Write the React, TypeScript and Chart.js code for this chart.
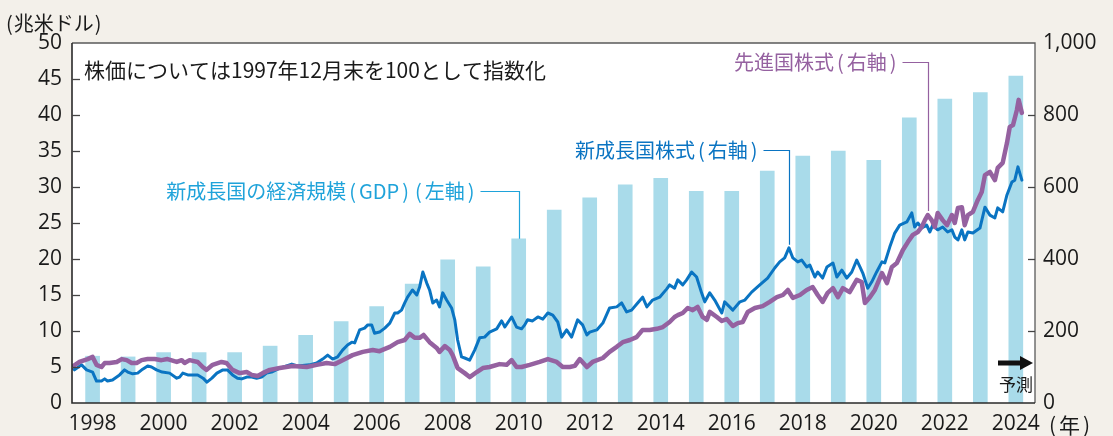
import { useEffect, useRef } from "react";
import { Chart, registerables } from "chart.js";

Chart.register(...registerables);

// 新成長国の経済規模(GDP) 兆米ドル(左軸)
const gdpYears = [1998, 1999, 2000, 2001, 2002, 2003, 2004, 2005, 2006, 2007, 2008, 2009, 2010, 2011, 2012, 2013, 2014, 2015, 2016, 2017, 2018, 2019, 2020, 2021, 2022, 2023, 2024];
const gdpValues = [6.5, 6.4, 7.0, 7.0, 7.0, 7.9, 9.4, 11.3, 13.4, 16.5, 19.9, 18.9, 22.8, 26.8, 28.5, 30.3, 31.2, 29.4, 29.4, 32.2, 34.3, 35.0, 33.7, 39.6, 42.2, 43.1, 45.4];

// 新成長国株式 (1997年12月末=100, 右軸)
const emTimes = [
  1997.92, 1997.99, 1998.19, 1998.33, 1998.5, 1998.61, 1998.75, 1998.84, 1998.92, 1999.06,
  1999.26, 1999.4, 1999.49, 1999.63, 1999.77, 1999.91, 2000.05, 2000.16, 2000.3, 2000.46,
  2000.67, 2000.87, 2000.95, 2001.04, 2001.18, 2001.32, 2001.46, 2001.61, 2001.72, 2001.86,
  2002.0, 2002.17, 2002.3, 2002.44, 2002.58, 2002.7, 2002.84, 2002.98, 2003.12, 2003.26,
  2003.4, 2003.54, 2003.77, 2004.11, 2004.27, 2004.61, 2004.81, 2004.98, 2005.12, 2005.26,
  2005.4, 2005.54, 2005.68, 2005.8, 2005.88, 2006.02, 2006.16, 2006.25, 2006.36, 2006.44,
  2006.58, 2006.73, 2006.87, 2007.01, 2007.09, 2007.2, 2007.29, 2007.37, 2007.51, 2007.63,
  2007.71, 2007.8, 2007.91, 2007.99, 2008.08, 2008.19, 2008.27, 2008.36, 2008.47, 2008.61,
  2008.7, 2008.78, 2008.89, 2008.98, 2009.12, 2009.26, 2009.4, 2009.54, 2009.68, 2009.88,
  2010.02, 2010.11, 2010.3, 2010.44, 2010.58, 2010.67, 2010.75, 2010.89, 2011.04, 2011.18,
  2011.32, 2011.46, 2011.6, 2011.71, 2011.85, 2011.99, 2012.16, 2012.3, 2012.42, 2012.5,
  2012.7, 2012.87, 2013.06, 2013.26, 2013.4, 2013.54, 2013.68, 2013.85, 2013.99, 2014.11,
  2014.27, 2014.47, 2014.67, 2014.75, 2014.89, 2014.98, 2015.12, 2015.23, 2015.37, 2015.51,
  2015.65, 2015.74, 2015.88, 2016.02, 2016.22, 2016.3, 2016.44, 2016.53, 2016.73, 2016.87,
  2017.06, 2017.29, 2017.51, 2017.71, 2017.85, 2017.99, 2018.11, 2018.22, 2018.36, 2018.47,
  2018.61, 2018.7, 2018.84, 2018.92, 2019.06, 2019.18, 2019.35, 2019.46, 2019.6, 2019.74,
  2019.88, 2020.02, 2020.11, 2020.19, 2020.33, 2020.44, 2020.58, 2020.73, 2020.81, 2020.95,
  2021.09, 2021.23, 2021.43, 2021.57, 2021.65, 2021.74, 2021.85, 2021.99, 2022.08, 2022.16,
  2022.3, 2022.44, 2022.58, 2022.7, 2022.78, 2022.87, 2022.98, 2023.06, 2023.15, 2023.29,
  2023.49, 2023.63, 2023.77, 2023.91, 2023.99, 2024.13, 2024.25, 2024.39, 2024.47, 2024.56,
  2024.67,
];
const emValues = [
  100, 92, 106, 92, 86, 61, 61, 67, 61, 64,
  78, 92, 86, 81, 83, 94, 103, 100, 92, 86,
  83, 69, 72, 83, 78, 78, 78, 69, 58, 69,
  83, 92, 92, 78, 69, 67, 72, 72, 69, 72,
  83, 86, 97, 108, 103, 106, 111, 122, 133, 122,
  128, 147, 161, 169, 167, 203, 208, 217, 217, 194,
  197, 208, 222, 250, 250, 258, 278, 294, 314, 300,
  322, 364, 333, 314, 278, 286, 267, 306, 286, 264,
  231, 175, 128, 125, 119, 147, 181, 183, 197, 206,
  228, 211, 239, 211, 206, 217, 231, 228, 239, 233,
  250, 244, 225, 183, 203, 183, 231, 217, 189, 197,
  203, 222, 264, 267, 278, 253, 258, 278, 294, 267,
  286, 294, 317, 328, 319, 342, 328, 342, 364, 350,
  306, 281, 306, 286, 250, 281, 267, 258, 281, 286,
  308, 328, 347, 375, 392, 403, 431, 403, 392, 397,
  378, 383, 350, 364, 347, 378, 389, 350, 369, 347,
  364, 397, 378, 361, 319, 336, 364, 392, 389, 433,
  472, 494, 503, 528, 489, 500, 486, 494, 475, 494,
  481, 489, 475, 481, 461, 453, 481, 453, 475, 472,
  486, 544, 522, 514, 542, 531, 578, 614, 619, 656,
  619,
];

// 先進国株式 (1997年12月末=100, 右軸)
const dmTimes = [
  1997.92, 1998.13, 1998.36, 1998.5, 1998.61, 1998.75, 1998.84, 1998.98, 1999.18, 1999.32,
  1999.46, 1999.6, 1999.74, 1999.88, 2000.05, 2000.25, 2000.44, 2000.61, 2000.87, 2001.01,
  2001.09, 2001.23, 2001.46, 2001.6, 2001.71, 2001.88, 2002.13, 2002.27, 2002.44, 2002.64,
  2002.84, 2002.98, 2003.15, 2003.29, 2003.49, 2003.77, 2004.13, 2004.53, 2004.81, 2005.09,
  2005.32, 2005.54, 2005.82, 2006.11, 2006.39, 2006.58, 2006.87, 2007.09, 2007.29, 2007.43,
  2007.57, 2007.71, 2007.82, 2007.99, 2008.19, 2008.27, 2008.42, 2008.56, 2008.64, 2008.78,
  2008.98, 2009.12, 2009.32, 2009.49, 2009.68, 2009.96, 2010.16, 2010.3, 2010.44, 2010.58,
  2010.81, 2011.09, 2011.32, 2011.57, 2011.74, 2011.94, 2012.08, 2012.22, 2012.42, 2012.58,
  2012.87, 2013.06, 2013.26, 2013.43, 2013.63, 2013.82, 2013.99, 2014.19, 2014.39, 2014.56,
  2014.75, 2014.89, 2014.98, 2015.12, 2015.26, 2015.4, 2015.54, 2015.68, 2015.8, 2015.88,
  2016.08, 2016.22, 2016.36, 2016.53, 2016.67, 2016.81, 2016.95, 2017.15, 2017.37, 2017.57,
  2017.77, 2017.94, 2018.08, 2018.22, 2018.42, 2018.61, 2018.78, 2018.92, 2019.06, 2019.2,
  2019.35, 2019.49, 2019.63, 2019.82, 2020.02, 2020.16, 2020.25, 2020.39, 2020.53, 2020.73,
  2020.87, 2021.01, 2021.15, 2021.32, 2021.46, 2021.6, 2021.74, 2021.85, 2021.94, 2022.02,
  2022.13, 2022.22, 2022.3, 2022.44, 2022.56, 2022.7, 2022.78, 2022.87, 2022.98, 2023.06,
  2023.15, 2023.29, 2023.43, 2023.54, 2023.63, 2023.77, 2023.91, 2023.99, 2024.13, 2024.25,
  2024.33, 2024.42, 2024.53, 2024.58, 2024.67,
];
const dmValues = [
  100, 114, 122, 128, 106, 100, 111, 111, 114, 122,
  119, 111, 111, 119, 122, 122, 119, 122, 114, 119,
  111, 119, 114, 100, 92, 106, 114, 111, 92, 83,
  86, 78, 75, 83, 92, 97, 103, 100, 106, 111,
  108, 119, 133, 142, 147, 144, 156, 169, 175, 192,
  181, 181, 189, 169, 153, 142, 158, 147, 133, 97,
  83, 72, 86, 97, 100, 108, 106, 119, 100, 100,
  106, 114, 122, 114, 100, 100, 103, 122, 100, 114,
  125, 142, 156, 169, 175, 183, 203, 203, 206, 211,
  225, 239, 244, 250, 264, 258, 267, 239, 231, 253,
  239, 228, 233, 214, 222, 225, 253, 264, 269, 281,
  294, 300, 314, 292, 300, 314, 322, 300, 281, 306,
  319, 294, 319, 308, 342, 336, 278, 294, 314, 361,
  333, 378, 389, 425, 447, 467, 475, 489, 508, 522,
  508, 489, 528, 508, 494, 522, 500, 542, 544, 494,
  522, 531, 564, 586, 633, 642, 619, 653, 667, 722,
  767, 772, 814, 842, 806,
];

const xTickYears = [1998, 2000, 2002, 2004, 2006, 2008, 2010, 2012, 2014, 2016, 2018, 2020, 2022, 2024];

const gdpCalloutYear = 2010;
const emCalloutTime = 2018.11;
const dmCalloutTime = 2022.02;

const COLOR_BAR = "#A9DBEA";
const COLOR_EM = "#0A74C2";
const COLOR_DM = "#9561A0";
const COLOR_GDP_TEXT = "#1FA3DA";
const FONT_NUM = '"Open Sans", "Noto Sans", sans-serif';
const FONT_JP = '"Noto Sans CJK JP", "Noto Sans", sans-serif';

// draw text whose parentheses get extra side bearing; returns nothing
function drawSpaced(ctx: any, text: string, x: number, y: number, pad: number, align: "left" | "right") {
  const chars = Array.from(text);
  const isParen = (c: string) => c === "(" || c === ")";
  const widths = chars.map((c) => ctx.measureText(c).width + (isParen(c) ? pad * 2 : 0));
  const total = widths.reduce((s, w) => s + w, 0);
  let cx = align === "right" ? x - total : x;
  ctx.textAlign = "left";
  chars.forEach((c, i) => {
    ctx.fillText(c, cx + (isParen(c) ? pad : 0), y);
    cx += widths[i];
  });
}

const decorPlugin = {
  id: "decor",
  beforeDraw(chart: any) {
    const { ctx, chartArea: a } = chart;
    ctx.save();
    ctx.fillStyle = "#ffffff";
    ctx.fillRect(a.left, a.top, a.right - a.left, a.bottom - a.top);
    ctx.restore();
  },
  afterDraw(chart: any) {
    const { ctx, chartArea: a, scales } = chart;
    const xs = scales.x;
    const yL = scales.y;
    const yR = scales.y2;
    ctx.save();

    // frame
    ctx.strokeStyle = "#5a5a5a";
    ctx.lineWidth = 1.3;
    ctx.beginPath();
    ctx.moveTo(a.left, a.top);
    ctx.lineTo(a.right, a.top);
    ctx.lineTo(a.right, a.bottom);
    ctx.stroke();
    ctx.strokeStyle = "#2a2a2a";
    ctx.lineWidth = 1.6;
    ctx.beginPath();
    ctx.moveTo(a.left, a.top);
    ctx.lineTo(a.left, a.bottom);
    ctx.lineTo(a.right, a.bottom);
    ctx.stroke();

    // inward ticks
    ctx.lineWidth = 1.3;
    ctx.strokeStyle = "#444";
    yL.ticks.forEach((t: any) => {
      if (t.value <= yL.min || t.value >= yL.max) return;
      const py = Math.round(yL.getPixelForValue(t.value)) + 0.5;
      ctx.beginPath();
      ctx.moveTo(a.left, py);
      ctx.lineTo(a.left + 8, py);
      ctx.stroke();
    });
    yR.ticks.forEach((t: any) => {
      if (t.value <= yR.min || t.value >= yR.max) return;
      const py = Math.round(yR.getPixelForValue(t.value)) + 0.5;
      ctx.beginPath();
      ctx.moveTo(a.right, py);
      ctx.lineTo(a.right - 7, py);
      ctx.stroke();
    });

    // texts
    ctx.textBaseline = "middle";
    ctx.fillStyle = "#1a1a1a";
    ctx.font = `20px ${FONT_JP}`;
    drawSpaced(ctx, "(兆米ドル)", 5, 23, 1, "left");
    ctx.font = `21px ${FONT_JP}`;
    ctx.textAlign = "left";
    ctx.fillText("株価については1997年12月末を100として指数化", a.left + 12, 70);
    ctx.font = `21px ${FONT_JP}`;
    drawSpaced(ctx, "(年)", 1046, 425, 3, "left");

    // callouts
    const callout = (text: string, color: string, labelY: number, tx: number, ty: number, gap: number) => {
      ctx.strokeStyle = color;
      ctx.lineWidth = 1.2;
      ctx.beginPath();
      ctx.moveTo(tx - gap + 3, labelY + 0.5);
      ctx.lineTo(tx, labelY + 0.5);
      ctx.lineTo(tx, ty);
      ctx.stroke();
      ctx.fillStyle = color;
      ctx.font = `20px ${FONT_JP}`;
      drawSpaced(ctx, text, tx - gap, labelY, 3, "right");
    };

    const gi = gdpYears.indexOf(gdpCalloutYear);
    callout(
      "新成長国の経済規模(GDP)(左軸)",
      COLOR_GDP_TEXT,
      191,
      Math.round(xs.getPixelForValue(gdpYears[gi] + 0.5)) + 0.5,
      yL.getPixelForValue(gdpValues[gi]),
      42
    );
    const ei = emTimes.indexOf(emCalloutTime);
    callout(
      "新成長国株式(右軸)",
      COLOR_EM,
      150,
      Math.round(xs.getPixelForValue(emTimes[ei])) + 0.5,
      yR.getPixelForValue(emValues[ei]) - 3,
      29
    );
    const di = dmTimes.indexOf(dmCalloutTime);
    callout(
      "先進国株式(右軸)",
      COLOR_DM,
      62,
      Math.round(xs.getPixelForValue(dmTimes[di])) + 0.5,
      yR.getPixelForValue(dmValues[di]) - 4,
      29
    );

    // forecast arrow
    const ay = a.bottom - 40;
    const ax0 = a.right - 37;
    const ax1 = a.right - 2;
    ctx.fillStyle = "#111";
    ctx.fillRect(ax0, ay - 2.5, ax1 - ax0 - 11, 5);
    ctx.beginPath();
    ctx.moveTo(ax1 - 13, ay - 7);
    ctx.lineTo(ax1, ay);
    ctx.lineTo(ax1 - 13, ay + 7);
    ctx.closePath();
    ctx.fill();
    ctx.textAlign = "center";
    ctx.font = `17px ${FONT_JP}`;
    ctx.fillStyle = "#1a1a1a";
    ctx.fillText("予測", a.right - 19, a.bottom - 18);

    ctx.restore();
  },
};

export default function App() {
  const ref = useRef<HTMLCanvasElement>(null);

  useEffect(() => {
    const canvas = ref.current;
    if (!canvas) return;
    const chart = new Chart(canvas, {
      type: "bar",
      data: {
        datasets: [
          {
            type: "line",
            label: "先進国株式",
            data: dmTimes.map((t, i) => ({ x: t, y: dmValues[i] })),
            yAxisID: "y2",
            borderColor: COLOR_DM,
            borderWidth: 4.5,
            pointRadius: 0,
            tension: 0,
            borderJoinStyle: "round",
            borderCapStyle: "round",
            order: 1,
          } as any,
          {
            type: "line",
            label: "新成長国株式",
            data: emTimes.map((t, i) => ({ x: t, y: emValues[i] })),
            yAxisID: "y2",
            borderColor: COLOR_EM,
            borderWidth: 3,
            pointRadius: 0,
            tension: 0,
            borderJoinStyle: "round",
            borderCapStyle: "round",
            order: 2,
          } as any,
          {
            type: "bar",
            label: "新成長国の経済規模(GDP)",
            data: gdpYears.map((yr, i) => ({ x: yr + 0.5, y: gdpValues[i] })),
            yAxisID: "y",
            backgroundColor: COLOR_BAR,
            borderWidth: 0,
            barThickness: 14,
            order: 3,
          } as any,
        ],
      },
      options: {
        animation: false,
        responsive: false,
        devicePixelRatio: 1,
        layout: { padding: { left: 0, right: 0, top: 43, bottom: 0 } },
        plugins: {
          legend: { display: false },
          tooltip: { enabled: false },
        },
        scales: {
          x: {
            type: "linear",
            min: 1997.92,
            max: 2025.04,
            offset: false,
            grid: { display: false, drawTicks: false },
            border: { display: false },
            afterBuildTicks: (scale: any) => {
              scale.ticks = xTickYears.map((y) => ({ value: y + 0.5 }));
            },
            afterFit: (scale: any) => {
              scale.height = 33;
            },
            ticks: {
              autoSkip: false,
              maxRotation: 0,
              padding: 8,
              color: "#1a1a1a",
              font: { family: FONT_NUM, size: 21 },
              callback: (v: any) => String(Math.floor(Number(v))),
            },
          },
          y: {
            type: "linear",
            position: "left",
            min: 0,
            max: 50,
            grid: { display: false, drawTicks: false },
            border: { display: false },
            afterFit: (scale: any) => {
              scale.width = 72;
            },
            ticks: {
              stepSize: 5,
              padding: 10,
              color: "#1a1a1a",
              font: { family: FONT_NUM, size: 21 },
            },
          },
          y2: {
            type: "linear",
            position: "right",
            min: 0,
            max: 1000,
            grid: { display: false, drawTicks: false },
            border: { display: false },
            afterFit: (scale: any) => {
              scale.width = 78;
            },
            ticks: {
              stepSize: 200,
              padding: 8,
              color: "#1a1a1a",
              font: { family: FONT_NUM, size: 21 },
              callback: (v: any) => Number(v).toLocaleString("en-US"),
            },
          },
        },
      } as any,
      plugins: [decorPlugin],
    });
    return () => chart.destroy();
  }, []);

  return (
    <div
      style={{
        position: "fixed",
        left: 0,
        top: 0,
        width: 1113,
        height: 436,
        background: "#F3F0EA",
      }}
    >
      <canvas ref={ref} width={1113} height={436} style={{ display: "block" }} />
    </div>
  );
}
